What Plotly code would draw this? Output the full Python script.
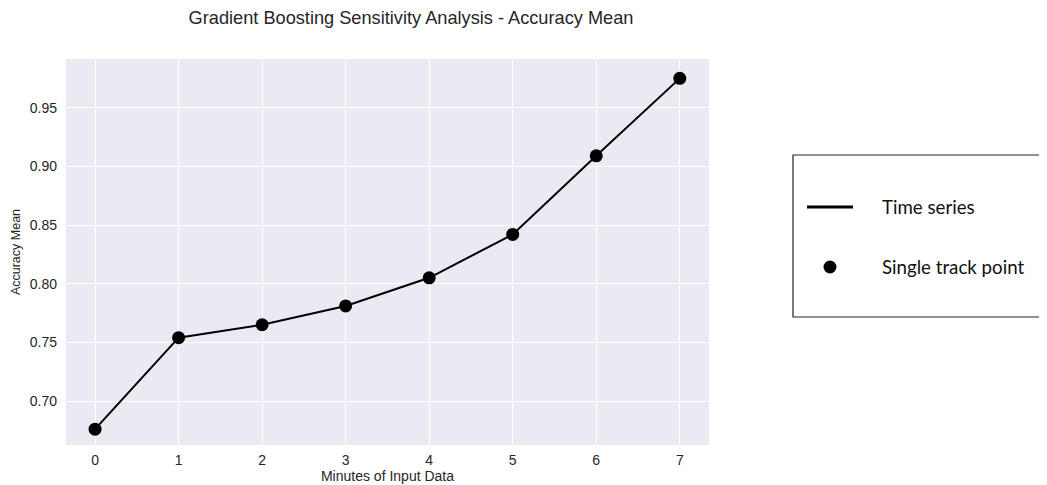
import plotly.graph_objects as go

minutes = [0, 1, 2, 3, 4, 5, 6, 7]
accuracy_mean = [0.676, 0.754, 0.765, 0.781, 0.805, 0.842, 0.909, 0.975]
y_ticks = [0.70, 0.75, 0.80, 0.85, 0.90, 0.95]
legend_labels = ["Time series", "Single track point"]

# page body has an 8px margin; positions below are in figure pixels
OFF = 8
W, H = 1047, 485
L, T = 66 - OFF, 59 - OFF
PW, PH = 643, 386
R = W - L - PW
B = H - T - PH

fig = go.Figure()
fig.add_trace(go.Scatter(
    x=minutes, y=accuracy_mean, mode="lines+markers",
    line=dict(color="black", width=2),
    marker=dict(color="black", size=13),
    showlegend=False, hoverinfo="x+y",
))

def px(x):
    return (x - OFF - L) / PW

def py(y):
    return 1 - (y - OFF - T) / PH

shapes = [
    dict(type="rect", xref="paper", yref="paper",
         x0=px(793), x1=px(1070), y0=py(317), y1=py(155),
         line=dict(color="#222", width=1.2), fillcolor="white", layer="above"),
    dict(type="line", xref="paper", yref="paper",
         x0=px(807), x1=px(853), y0=py(207), y1=py(207),
         line=dict(color="black", width=3), layer="above"),
    dict(type="circle", xref="paper", yref="paper",
         x0=px(823.5), x1=px(836.5), y0=py(273.5), y1=py(260.5),
         line=dict(color="black", width=0), fillcolor="black", layer="above"),
]
annotations = [
    dict(text=legend_labels[0], xref="paper", yref="paper", x=px(880), y=py(207),
         xanchor="left", yanchor="middle", showarrow=False,
         font=dict(family="Lato, Noto Sans", size=18.7, color="#111")),
    dict(text=legend_labels[1], xref="paper", yref="paper", x=px(880), y=py(267),
         xanchor="left", yanchor="middle", showarrow=False,
         font=dict(family="Lato, Noto Sans", size=18.7, color="#111")),
]

fig.update_layout(
    width=W, height=H,
    margin=dict(l=L, r=R, t=T, b=B, autoexpand=False),
    paper_bgcolor="white", plot_bgcolor="#EAEAF2",
    title=dict(text="Gradient Boosting Sensitivity Analysis - Accuracy Mean",
               x=(411 - OFF) / W, xanchor="center", y=1 - (18 - OFF) / H, yanchor="middle",
               font=dict(family="Liberation Sans, Arial", size=18.2, color="#262626")),
    font=dict(family="Liberation Sans, Arial", color="#262626"),
    shapes=shapes, annotations=annotations,
)
fig.update_xaxes(range=[-0.348, 7.35], tickmode="array", tickvals=minutes,
                 ticktext=[str(m) for m in minutes], automargin=False,
                 showgrid=True, gridcolor="white", gridwidth=1.2, zeroline=False,
                 showline=False, ticks="", ticklabelstandoff=5,
                 tickfont=dict(size=14, color="#262626"),
                 title=dict(text="Minutes of Input Data", font=dict(size=14, color="#262626"), standoff=2))
fig.update_yaxes(range=[0.6625, 0.9915], tickmode="array", tickvals=y_ticks,
                 ticktext=[f"{v:.2f}" for v in y_ticks], automargin=False,
                 showgrid=True, gridcolor="white", gridwidth=1.2, zeroline=False,
                 showline=False, ticks="", ticklabelstandoff=8,
                 tickfont=dict(size=14, color="#262626"),
                 title=dict(text="Accuracy Mean", font=dict(size=12.5, color="#262626"), standoff=6))

fig.write_html("out.html")
